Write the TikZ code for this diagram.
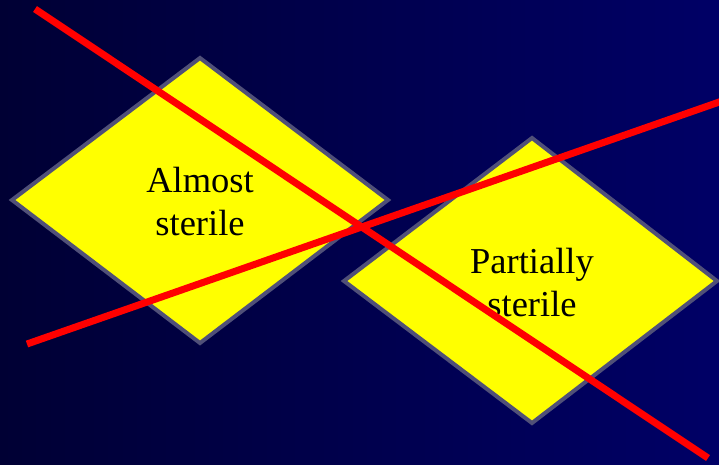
\documentclass[tikz,border=0pt]{standalone}
\usepackage{fontspec}
\setmainfont{Liberation Serif}
\definecolor{bgleft}{RGB}{0,0,52}
\definecolor{bgright}{RGB}{0,0,102}
\definecolor{diamondedge}{RGB}{80,80,120}
\definecolor{crossred}{RGB}{255,0,0}
\definecolor{diamondfill}{RGB}{255,255,0}
\tikzset{
  diamondbox/.style={fill=diamondfill, draw=diamondedge, line width=4pt, line join=miter},
  crossline/.style={draw=crossred, line width=7pt},
  label/.style={align=center, font=\fontsize{36.5}{43}\selectfont, text=black, inner sep=0pt}
}
\begin{document}
\begin{tikzpicture}[x=1pt,y=-1pt]
\useasboundingbox (0,0) rectangle (719,464);
\shade[left color=bgleft, right color=bgright] (0,0) rectangle (719,464);
\path[diamondbox] (200,58) -- (388,200) -- (200,343) -- (12,200) -- cycle;
\path[diamondbox] (532,138) -- (717,281) -- (532,423) -- (344,281) -- cycle;
\node[label] (almost) at (200,202) {Almost\\sterile};
\node[label] (partially) at (532,283) {Partially\\sterile};
\path[crossline] (35,9) -- (708,458);
\path[crossline] (27,344) -- (725,100);
\end{tikzpicture}
\end{document}
